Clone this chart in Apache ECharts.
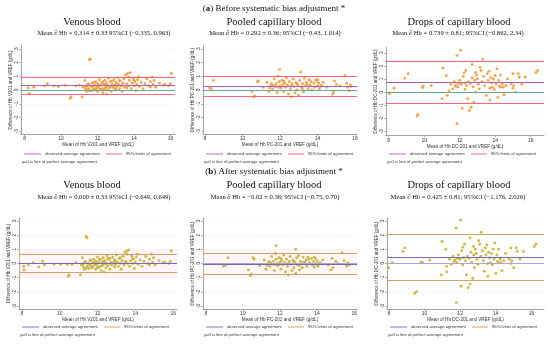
<!DOCTYPE html>
<html><head><meta charset="utf-8">
<script src="https://cdn.jsdelivr.net/npm/echarts@6/dist/echarts.min.js"></script>
<style>html,body{margin:0;padding:0;background:#fff}#c{width:550px;height:347px}</style>
</head><body><div id="c"></div>
<script>
// ---------- DATA ----------
const rowTitles = ['({b|a}) Before systematic bias adjustment *', '({b|b}) After systematic bias adjustment *'];
const panelTitles = ['Venous blood', 'Pooled capillary blood', 'Drops of capillary blood'];
const subtitles = [
  'Mean \u2202 Hb = 0.314 \u00b1 0.33 95%CI (\u22120.335, 0.963)',
  'Mean \u2202 Hb = 0.292 \u00b1 0.36; 95%CI (\u22120.43, 1.014)',
  'Mean \u2202 Hb = 0.739 \u00b1 0.81; 95%CI (\u22120.862, 2.34)',
  'Mean \u2202 Hb = 0.000 \u00b1 0.33 95%CI (\u22120.649, 0.649)',
  'Mean \u2202 Hb = \u22120.02 \u00b1 0.36; 95%CI (\u22120.75, 0.70)',
  'Mean \u2202 Hb = 0.425 \u00b1 0.81; 95%CI (\u22121.176, 2.026)'
];
const devices = ['V201', 'PC-201', 'DC-201'];
const meanDiff = [0.314, 0.292, 0.739, 0.000, -0.02, 0.425];
const lowerLoA = [-0.335, -0.43, -0.862, -0.649, -0.75, -1.176];
const upperLoA = [0.963, 1.014, 2.34, 0.649, 0.70, 2.026];
const xTicks = [8, 10, 12, 14, 16];
const yTicks = [-3, -2, -1, 0, 1, 2, 3];
const legendLabels = ['observed average agreement', '95% limits of agreement', 'y=0 is line of perfect average agreement'];

const venousBefore = [[8.2,0.15],[8.25,-0.25],[8.5,0.2],[9.1,0.3],[9.25,0.45],[9.6,0.3],[9.85,0.25],[10.2,0.35],[10.5,-0.6],[10.55,-0.5],[10.8,0.3],[11.0,0.35],[11.15,-0.5],[11.2,0.2],[11.3,0.7],[11.35,0.05],[11.4,-0.1],[11.45,0.4],[11.5,0.1],[11.55,2.2],[11.6,2.25],[11.6,0.3],[11.65,-0.05],[11.7,0.5],[11.75,0.15],[11.8,0.0],[11.85,0.35],[11.9,0.6],[11.95,0.2],[12.0,-0.1],[12.0,0.45],[12.05,0.25],[12.1,0.75],[12.15,0.05],[12.2,0.35],[12.25,0.55],[12.3,0.1],[12.3,-0.2],[12.35,0.4],[12.4,0.7],[12.45,0.2],[12.5,-0.3],[12.5,0.5],[12.55,0.0],[12.6,0.85],[12.6,0.3],[12.65,0.15],[12.7,0.6],[12.75,-0.1],[12.8,0.4],[12.85,0.2],[12.9,0.75],[12.95,0.35],[13.0,0.05],[13.0,0.55],[13.05,0.25],[13.1,0.9],[13.15,0.4],[13.2,0.1],[13.25,0.65],[13.3,0.3],[13.35,-0.1],[13.4,0.5],[13.45,0.8],[13.5,0.2],[13.55,1.1],[13.6,0.45],[13.65,1.2],[13.7,0.3],[13.75,0.7],[13.8,1.25],[13.85,0.1],[13.9,0.5],[13.95,0.85],[14.0,0.3],[14.05,0.6],[14.1,-0.05],[14.15,0.4],[14.2,0.75],[14.3,0.25],[14.4,0.55],[14.5,0.1],[14.6,0.45],[14.7,0.8],[14.8,0.3],[14.9,0.6],[15.0,0.95],[15.05,0.4],[15.1,0.7],[15.2,0.2],[15.4,0.5],[15.6,0.35],[15.7,0.4],[15.9,0.3],[16.05,1.2],[16.0,0.45],[11.35,0.25],[11.4,0.3],[11.5,0.45],[11.55,-0.05],[11.7,0.25],[11.8,0.55],[11.9,0.05],[12.0,0.15],[12.1,0.35],[12.2,0.0],[12.3,0.6],[12.4,0.1],[12.45,0.4],[12.55,0.3],[12.7,0.25],[12.8,0.65],[12.9,0.15],[13.1,0.45],[13.2,0.7],[13.35,0.35],[13.6,0.15],[13.7,0.95],[14.0,0.7],[14.25,0.95],[14.9,0.2]];

const pooledBefore = [[8.25,0.15],[8.35,0.1],[8.45,0.7],[10.5,-0.1],[10.6,-0.5],[10.65,-0.45],[10.8,0.6],[10.85,0.65],[11.1,0.2],[11.3,0.55],[11.4,-0.1],[11.5,0.3],[11.55,0.45],[11.6,0.1],[11.65,0.35],[11.7,0.8],[11.75,0.25],[11.8,0.45],[11.85,-0.2],[11.9,1.0],[11.95,0.6],[11.98,1.5],[12.0,0.3],[12.05,0.15],[12.1,0.7],[12.15,0.4],[12.2,-0.1],[12.25,0.5],[12.3,0.2],[12.35,0.9],[12.4,0.35],[12.45,-0.3],[12.5,0.6],[12.55,0.1],[12.6,-0.5],[12.65,0.45],[12.7,0.8],[12.75,0.25],[12.8,-0.2],[12.85,0.55],[12.9,0.0],[12.95,0.35],[13.0,-0.4],[13.05,0.7],[13.1,1.3],[13.15,0.2],[13.2,0.45],[13.25,-0.15],[13.3,0.85],[13.35,0.3],[13.4,0.55],[13.5,0.1],[13.55,0.75],[13.6,0.35],[13.7,0.0],[13.8,0.5],[13.85,0.2],[13.9,0.75],[13.95,0.65],[14.0,0.3],[14.05,0.5],[14.1,0.1],[14.2,0.35],[14.3,0.55],[14.5,0.2],[14.8,-0.3],[14.85,-0.15],[14.9,0.65],[15.0,0.4],[15.2,0.3],[15.45,1.05],[15.55,0.5],[15.6,0.2],[15.7,-0.05],[15.75,0.35],[15.8,0.25],[11.45,0.15],[11.9,0.2],[12.2,0.65],[12.6,0.3],[12.9,0.45],[13.2,0.1],[13.45,0.4],[13.65,0.6],[14.0,0.75],[14.15,0.25]];

const dropsBefore = [[8.05,-0.12],[8.3,0.3],[8.9,1.05],[9.1,1.4],[9.6,-1.82],[9.65,-1.72],[9.9,0.33],[9.95,0.45],[10.4,0.5],[11.0,-0.5],[11.05,1.82],[11.25,1.27],[11.3,-0.25],[11.5,0.6],[11.6,0.25],[11.7,0.8],[11.75,0.45],[11.8,0.55],[11.85,-2.4],[11.85,2.8],[11.9,0.38],[11.95,0.65],[12.0,0.9],[12.05,3.2],[12.1,0.6],[12.15,-1.25],[12.2,1.2],[12.25,1.47],[12.3,0.7],[12.35,1.65],[12.4,0.5],[12.45,-0.5],[12.5,0.8],[12.55,-1.4],[12.6,0.65],[12.65,-1.15],[12.7,1.1],[12.75,0.4],[12.8,-0.76],[12.85,0.9],[12.9,0.0],[12.95,1.3],[13.0,1.0],[13.05,0.6],[13.1,0.25],[13.15,1.9],[13.2,1.65],[13.25,0.8],[13.3,2.5],[13.35,1.2],[13.4,0.5],[13.5,-0.25],[13.55,1.4],[13.6,0.9],[13.65,1.6],[13.7,0.3],[13.75,1.1],[13.8,0.7],[13.85,0.38],[13.9,1.0],[13.95,0.2],[14.0,1.27],[14.05,0.6],[14.1,1.77],[14.15,-0.38],[14.2,0.9],[14.25,0.45],[14.3,0.38],[14.4,0.63],[14.45,0.38],[14.5,-0.2],[14.6,0.5],[14.7,1.0],[14.9,0.63],[15.0,0.3],[15.05,0.5],[15.15,0.0],[15.35,1.14],[15.5,0.6],[15.7,1.14],[16.3,1.5],[16.4,1.65],[12.9,1.5],[12.3,0.2],[13.7,-0.6],[11.4,0.1],[12.7,2.1],[14.3,1.3],[15.0,1.4],[15.3,1.4]];

const venousAfter = [[8.1,-0.2],[8.12,-0.45],[8.35,-0.1],[8.6,0.05],[8.9,-0.25],[9.1,0.15],[9.2,-0.1],[9.7,-0.05],[10.05,-0.05],[10.4,-0.05],[10.45,-0.9],[10.5,-0.8],[10.65,-0.05],[10.85,0.05],[11.1,-0.8],[11.15,-0.1],[11.2,0.4],[11.25,-0.25],[11.3,-0.4],[11.35,0.1],[11.4,1.9],[11.45,1.8],[11.45,-0.2],[11.5,0.0],[11.55,-0.35],[11.6,0.2],[11.65,-0.15],[11.7,-0.3],[11.75,0.05],[11.8,0.3],[11.85,-0.1],[11.9,-0.4],[11.9,0.15],[11.95,-0.05],[12.0,0.45],[12.0,-0.25],[12.05,0.05],[12.1,0.25],[12.15,-0.2],[12.2,-0.5],[12.25,0.1],[12.3,0.4],[12.3,-0.1],[12.35,-0.6],[12.4,0.2],[12.45,-0.3],[12.5,0.55],[12.5,0.0],[12.55,-0.15],[12.6,0.3],[12.65,-0.4],[12.7,0.1],[12.75,-0.1],[12.8,0.45],[12.85,0.05],[12.9,-0.25],[12.9,0.25],[12.95,-0.05],[13.0,0.6],[13.05,0.1],[13.1,-0.2],[13.15,0.35],[13.2,0.0],[13.25,-0.4],[13.3,0.2],[13.35,0.5],[13.4,-0.1],[13.45,0.8],[13.5,0.15],[13.55,0.9],[13.6,0.0],[13.65,0.95],[13.7,-0.2],[13.75,0.2],[13.8,0.55],[13.85,0.0],[13.9,0.3],[13.95,-0.35],[14.0,0.1],[14.05,0.45],[14.15,-0.05],[14.25,0.25],[14.35,-0.2],[14.45,0.15],[14.55,0.5],[14.65,0.0],[14.75,0.3],[14.85,0.65],[14.9,0.1],[14.95,0.4],[15.05,-0.1],[15.25,0.2],[15.45,0.05],[15.55,0.1],[15.75,0.0],[15.9,0.9],[15.85,0.15],[11.2,-0.05],[11.25,0.0],[11.35,0.15],[11.4,-0.35],[11.55,-0.05],[11.65,0.25],[11.75,-0.25],[11.85,0.05],[11.95,0.05],[12.05,-0.3],[12.15,0.3],[12.25,-0.15],[12.3,0.15],[12.4,0.0],[12.55,0.35],[12.65,0.35],[12.75,-0.05],[12.95,0.15],[13.2,0.4],[13.45,0.05],[13.55,0.65],[13.85,0.4],[14.1,0.65],[14.75,-0.1]];

const pooledAfter = [[8.95,-0.2],[9.05,-0.12],[9.2,0.4],[10.3,-0.45],[10.4,-0.85],[10.45,-0.75],[10.55,0.4],[10.6,0.3],[10.9,-0.15],[11.15,0.25],[11.25,-0.4],[11.35,0.0],[11.4,0.15],[11.45,-0.2],[11.5,0.05],[11.55,0.5],[11.6,-0.05],[11.65,0.15],[11.7,-0.5],[11.75,0.7],[11.8,1.25],[11.8,0.3],[11.85,0.0],[11.9,-0.15],[11.95,0.4],[12.0,0.1],[12.05,-0.4],[12.1,0.2],[12.15,-0.1],[12.2,0.6],[12.25,0.05],[12.3,-0.6],[12.35,0.3],[12.4,-0.2],[12.45,-0.8],[12.5,0.15],[12.55,0.5],[12.6,-0.05],[12.65,-0.5],[12.7,0.25],[12.75,-0.3],[12.8,0.05],[12.85,1.0],[12.85,-0.7],[12.9,0.4],[12.95,-0.1],[13.0,0.55],[13.05,-0.45],[13.1,0.15],[13.15,0.0],[13.2,-0.3],[13.25,0.45],[13.3,0.1],[13.4,0.25],[13.45,-0.2],[13.5,0.45],[13.6,0.05],[13.7,0.35],[13.75,-0.1],[13.8,0.15],[13.85,0.45],[13.9,0.35],[13.95,0.0],[14.0,0.2],[14.05,-0.2],[14.15,0.05],[14.3,0.25],[14.6,-0.1],[14.75,-0.45],[14.85,-0.3],[14.8,0.35],[15.0,0.15],[15.1,0.0],[15.35,0.75],[15.45,0.2],[15.55,-0.05],[15.6,-0.2],[15.65,0.05],[15.75,-0.1],[11.3,-0.15],[11.75,-0.1],[12.05,0.35],[12.45,0.0],[12.75,0.15],[13.05,-0.15],[13.35,0.1],[13.55,0.3],[13.85,-0.25],[14.0,-0.05]];

const dropsAfter = [[8.0,-0.3],[8.2,0.05],[8.8,0.85],[8.9,1.1],[9.45,-2.1],[9.55,-1.98],[9.8,0.1],[9.9,0.05],[10.3,0.25],[10.95,-0.8],[10.98,1.55],[11.2,1.0],[11.25,-0.6],[11.4,0.3],[11.5,-0.05],[11.6,0.5],[11.65,0.15],[11.7,0.25],[11.78,-2.75],[11.78,2.5],[11.8,0.08],[11.85,0.35],[11.9,0.6],[12.03,3.05],[12.0,0.3],[12.05,-1.6],[12.1,0.9],[12.15,1.15],[12.2,0.4],[12.25,1.35],[12.3,0.2],[12.35,-0.8],[12.4,0.5],[12.45,-1.7],[12.5,0.35],[12.55,-1.45],[12.6,0.8],[12.65,0.1],[12.7,-1.05],[12.75,0.6],[12.8,-0.3],[12.85,1.0],[12.9,0.7],[12.95,0.3],[13.0,-0.05],[13.05,1.6],[13.1,1.35],[13.15,0.5],[13.18,2.2],[13.25,0.9],[13.3,0.2],[13.35,-0.55],[13.4,1.1],[13.45,0.6],[13.5,1.3],[13.55,0.0],[13.6,0.8],[13.65,0.4],[13.7,0.05],[13.75,0.7],[13.8,-0.1],[13.85,1.0],[13.9,0.3],[13.95,1.45],[14.0,-0.7],[14.05,0.6],[14.1,0.15],[14.15,0.05],[14.25,0.3],[14.3,0.05],[14.35,-0.5],[14.45,0.2],[14.55,0.7],[14.75,0.3],[14.85,0.0],[14.9,0.2],[15.0,-0.3],[15.2,0.85],[15.35,0.3],[15.55,0.85],[16.15,1.2],[16.25,1.35],[12.75,1.2],[12.15,-0.1],[13.55,-0.9],[11.25,-0.2],[12.55,1.8],[14.15,1.0],[14.85,1.1],[15.15,1.1]];

const panelData = [venousBefore, pooledBefore, dropsBefore, venousAfter, pooledAfter, dropsAfter];

// ---------- LAYOUT / STYLE ----------
const layout = [
  {left:21,  top:46,   width:154, height:88, x:[7.8,16.25], y:[-3.2,3.2]},
  {left:203, top:46,   width:154, height:88, x:[7.9,16.1],  y:[-3.2,3.2]},
  {left:386, top:47.5, width:158, height:88, x:[7.85,16.75],y:[-3.3,3.4]},
  {left:19,  top:218,  width:158, height:91, x:[7.85,16.2], y:[-3.2,3.2]},
  {left:203, top:218,  width:154, height:91, x:[7.85,16.15],y:[-3.2,3.2]},
  {left:387, top:218,  width:157, height:91, x:[7.9,16.7],  y:[-3.2,3.2]}
];
const rowStyle = [
  {pt:'#f3a044', mean:'#b35cc2', lim:'#ff5470', zero:'#63a89b', titleY:9, panelY:22, subY:33, legY:154},
  {pt:'#cbb53c', mean:'#7167bd', lim:'#c79a57', zero:'#aaa6cc', titleY:172, panelY:185, subY:197, legY:327}
];
const titleCx = [92, 274, 459];
const subCx = [104, 275, 458];
const SERIF = '"Liberation Serif","DejaVu Serif",serif';
const SANS = '"Liberation Sans",Arial,sans-serif';

const grids = [], xAxes = [], yAxes = [], series = [], graphics = [];

layout.forEach((L, i) => {
  const row = i < 3 ? 0 : 1, col = i % 3, S = rowStyle[row];
  grids.push({left:L.left, top:L.top, width:L.width, height:L.height, containLabel:false});
  xAxes.push({
    type:'value', gridIndex:i, min:L.x[0], max:L.x[1],
    name:'Mean of Hb ' + devices[col] + ' and VREF (g/dL)', nameLocation:'middle', nameGap:8,
    nameTextStyle:{fontSize:4.6, color:'#333', fontFamily:SANS},
    axisLine:{show:true, onZero:false, lineStyle:{color:'#8a8a8a', width:0.8}},
    axisTick:{show:true, length:2, customValues:xTicks, lineStyle:{color:'#8a8a8a', width:0.6}},
    axisLabel:{fontSize:5, color:'#333', margin:2.5, customValues:xTicks, fontFamily:SANS},
    splitLine:{show:false}
  });
  yAxes.push({
    type:'value', gridIndex:i, min:L.y[0], max:L.y[1],
    name:'Difference of Hb ' + devices[col] + ' and VREF (g/dL)', nameLocation:'middle', nameGap:7, nameRotate:90,
    nameTextStyle:{fontSize:4.5, color:'#333', fontFamily:SANS},
    axisLine:{show:true, lineStyle:{color:'#8a8a8a', width:0.8}},
    axisTick:{show:true, length:2, customValues:yTicks, lineStyle:{color:'#8a8a8a', width:0.6}},
    axisLabel:{fontSize:4.8, color:'#333', margin:2, rotate:90, customValues:yTicks, fontFamily:SANS},
    splitLine:{show:true, lineStyle:{color:'#f3f3f3', width:0.6}}
  });
  const lineSer = {
    type:'scatter', xAxisIndex:i, yAxisIndex:i, data:[], z:1, silent:true,
    markLine:{silent:true, symbol:'none', label:{show:false}, animation:false,
      data:[
        {yAxis:0, lineStyle:{color:S.zero, width:1.1, type:'solid'}},
        {yAxis:upperLoA[i], lineStyle:{color:S.lim, width:0.9, type:'solid'}},
        {yAxis:lowerLoA[i], lineStyle:{color:S.lim, width:0.9, type:'solid'}},
        {yAxis:meanDiff[i], lineStyle:{color:S.mean, width:1.0, type:'solid'}}
      ]}
  };
  if (row === 1 && col < 2) {
    lineSer.markArea = {silent:true, animation:false, itemStyle:{color:'rgba(250,215,228,0.25)'},
      data:[[{yAxis:-1}, {yAxis:1}]]};
  }
  series.push(lineSer);
  series.push({
    type:'scatter', xAxisIndex:i, yAxisIndex:i, data:panelData[i], z:3, silent:true,
    symbol:'circle', symbolSize:2.9, itemStyle:{color:S.pt, opacity:0.95}
  });

  if (col === 0) {
    graphics.push({type:'text', x:274, y:S.titleY, style:{text:rowTitles[row], fontSize:9, fontFamily:SERIF,
      fill:'#111', align:'center', verticalAlign:'middle', rich:{b:{fontSize:9, fontFamily:SERIF, fontWeight:'bold', fill:'#111'}}}});
  }
  graphics.push({type:'text', x:titleCx[col], y:S.panelY, style:{text:panelTitles[col], fontSize:10.5, fontFamily:SERIF,
    fill:'#111', align:'center', verticalAlign:'middle'}});
  graphics.push({type:'text', x:subCx[col], y:S.subY, style:{text:subtitles[i], fontSize:6.6, fontFamily:SERIF,
    fill:'#111', align:'center', verticalAlign:'middle'}});
  const ly = S.legY, lx = L.left;
  graphics.push({type:'line', shape:{x1:lx+3, y1:ly, x2:lx+20, y2:ly}, style:{stroke:S.mean, lineWidth:0.9}});
  graphics.push({type:'text', x:lx+24, y:ly, style:{text:legendLabels[0], fontSize:4.2, fontFamily:SANS, fill:'#333', align:'left', verticalAlign:'middle'}});
  graphics.push({type:'line', shape:{x1:lx+85, y1:ly, x2:lx+101, y2:ly}, style:{stroke:S.lim, lineWidth:0.9}});
  graphics.push({type:'text', x:lx+105, y:ly, style:{text:legendLabels[1], fontSize:4.2, fontFamily:SANS, fill:'#333', align:'left', verticalAlign:'middle'}});
  graphics.push({type:'text', x:lx+1, y:ly+7.5, style:{text:legendLabels[2], fontSize:4.2, fontFamily:SANS, fill:'#333', align:'left', verticalAlign:'middle'}});
});

const chart = echarts.init(document.getElementById('c'), null, {renderer:'canvas'});
chart.setOption({
  backgroundColor:'#ffffff', animation:false,
  grid:grids, xAxis:xAxes, yAxis:yAxes, series:series, graphic:graphics
});
</script></body></html>
